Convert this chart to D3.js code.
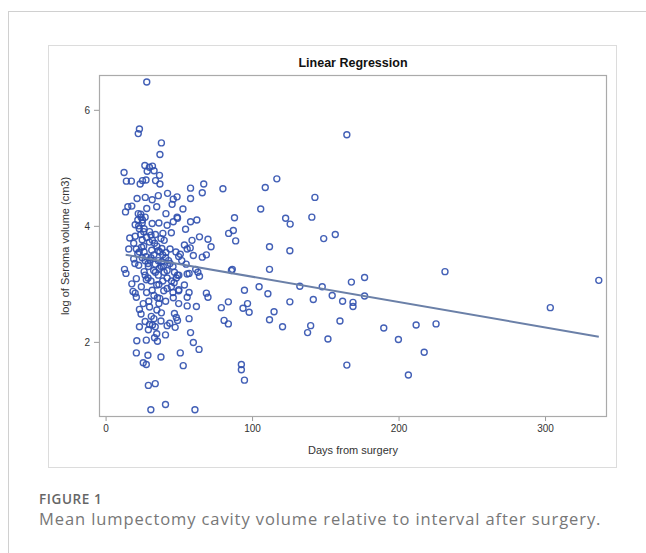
<!DOCTYPE html>
<html><head><meta charset="utf-8">
<script src="https://cdn.jsdelivr.net/npm/d3@7"></script>
<style>
html,body{margin:0;padding:0;background:#fff;}
svg{display:block;}
</style></head>
<body>
<svg id="c" width="646" height="553"></svg>
<script>
// ---- data ----
const chartTitle = "Linear Regression";
const xLabel = "Days from surgery";
const yLabel = "log of Seroma volume (cm3)";
const xTicks = [0, 100, 200, 300];
const yTicks = [2, 4, 6];
const figLabel = "FIGURE 1";
const caption = "Mean lumpectomy cavity volume relative to interval after surgery.";

// points (days, log volume)
const days = [
164.7,116.9,109,142.9,80.1,105.9,122.9,126,140.8,88,84,87.2,88.8,156.8,148.9,111.9,125.8,111.9,85.9,86.5,
231.7,176.8,167.8,336.7,132.6,147.9,104.8,94.8,110.8,154.7,176.8,141.8,161.8,168.9,168.9,83.8,96.9,79,93.8,303.6,
98,115,125.8,111.9,80.9,83.8,120.8,140,137.9,160,189.9,212,225.6,151.8,199.9,217.5,164.7,206.7,92.7,92.7,94.8,
67,58,66,58,62.3,58,54.6,64.1,69.9,72,53.8,59,55.7,57.8,68.8,66,59.9,51,49.9,55,61.5,63,55.7,64.1,57,53.8,49.9,57,68.8,69.9,55.7,55.7,49.9,62,57,58,59.9,63.8,51,53,61,40.9,30.9,33.9,29.2,37.8,28.9,25.7,27.8,21,21.3,27.8,33.4,34.9,35.4,40.9,23.1,29.2,32,33.9,42,47.5,37.8,43.8,48.3,49.1,47,31.2,24.2,38.1,23.1,25.7,29.5,36.4,21,35.4,46.2,20.2,18.7,24.4,31.8,39.7,42,44.9,17.9,27.8,34.9,36.4,46.8,48.3,49.1,21,12.9,13.9,19.2,22.6,26.3,29.2,32.8,36.8,39.4,42,30.2,33.9,38.4,27.6,15.8,19.2,22,24.6,26.3,31.5,36,38.4,41.2,33.4,37.8,29.9,25,16.5,20.2,31,39.1,44.9,42,36.4,31.8,25.2,22.6,20.2,26.3,22.3,24.2,15.2,17.9,13.6,28.1,34.9,45.4,41.2,48.8,52.8,46.2,49.1,21.5,27.1,31.8,36,42.3,46.2,48.8,14.2,17.6,12.6,23.6,25.2,27.6,34.1,37.1,36.8,33.1,29.9,26.8,32,28.4,37.1,38.1,22.3,23.1,28.1,
24,26,28,30,32,35,37,39,41,43,25,27,29,31,33,36,38,40,44,46,27,29,31,34,36,39,42,45,28,33,37,41,30,35,23,25,27,22,24,21,23,20,26,34,40,47,50,52,44,48,46,50,33,30,27
];
const logVolume = [
5.57,4.81,4.66,4.49,4.64,4.29,4.13,4.03,4.15,4.14,3.87,3.92,3.74,3.85,3.78,3.64,3.57,3.25,3.23,3.25,
3.21,3.11,3.03,3.06,2.96,2.95,2.95,2.89,2.83,2.80,2.79,2.73,2.70,2.68,2.61,2.69,2.66,2.59,2.58,2.59,
2.51,2.52,2.69,2.38,2.37,2.31,2.26,2.28,2.16,2.36,2.24,2.29,2.31,2.05,2.04,1.82,1.60,1.43,1.61,1.52,1.34,
4.72,4.65,4.57,4.47,4.10,4.07,3.94,3.81,3.77,3.64,3.67,3.75,3.60,3.62,3.50,3.46,3.49,3.51,3.47,3.34,3.25,3.20,3.17,3.13,3.18,2.98,2.88,2.85,2.84,2.77,2.77,2.62,2.66,2.61,2.40,2.16,1.99,1.87,1.81,1.59,0.83,0.92,0.83,1.28,1.25,1.74,1.77,1.64,1.61,1.81,2.02,2.03,2.07,2.14,2.01,2.12,2.26,2.21,2.29,2.26,2.28,2.25,2.36,2.32,2.42,2.37,2.49,2.44,2.48,2.50,2.56,2.66,2.70,2.66,2.77,2.76,2.76,2.84,2.87,2.95,2.89,2.88,2.92,2.95,3.00,3.07,2.98,2.99,3.02,3.10,3.15,3.09,3.25,3.18,3.43,3.32,3.21,3.30,3.23,3.27,3.30,3.23,3.41,3.34,3.38,3.47,3.60,3.70,3.52,3.63,3.55,3.58,3.57,3.61,3.54,3.70,3.78,3.72,3.76,3.79,3.82,3.84,3.87,3.88,4.01,4.05,4.04,4.10,4.00,4.02,3.95,4.21,4.15,4.33,4.34,4.24,4.30,4.33,4.37,4.21,4.15,4.29,4.07,4.13,4.47,4.49,4.45,4.52,4.56,4.46,4.50,4.77,4.77,4.92,4.72,4.78,4.79,4.78,4.72,4.87,4.95,5.01,5.04,5.03,4.94,5.23,5.43,5.59,5.67,6.48,
3.85,3.9,3.8,3.9,3.75,3.65,3.55,3.5,3.45,3.4,3.45,3.4,3.35,3.45,3.5,3.4,3.3,3.2,3.35,3.3,3.15,3.1,3.05,3.2,3.15,3.05,3.1,3.05,2.85,2.8,2.75,2.7,2.6,2.55,3.95,4.05,4.15,4.1,4.2,3.6,3.55,3.35,3.65,3.85,3.75,3.2,3.15,3.4,3.6,3.55,2.85,2.9,2.4,2.3,2.35
];
// fitted regression line endpoints
const fitDays = [13.7, 336.7];
const fitLog = [3.50, 2.09];

// ---- drawing ----
const svg = d3.select("#c");
const font = "'Liberation Sans', Arial, sans-serif";

// card borders
svg.append("line").attr("x1",8).attr("x2",646).attr("y1",11.5).attr("y2",11.5).attr("stroke","#d0d0d0");
svg.append("line").attr("x1",8.5).attr("x2",8.5).attr("y1",11).attr("y2",553).attr("stroke","#d0d0d0");
// image border
svg.append("rect").attr("x",48.5).attr("y",45.5).attr("width",568).attr("height",422)
  .attr("fill","none").attr("stroke","#dcdcdc");

const L=99, R=607, T=75, B=417;
const x = d3.scaleLinear().domain([-4.5, 342.3]).range([L, R]);
const y = d3.scaleLinear().domain([0.705, 6.6]).range([B, T]);

svg.append("text").attr("x",(L+R)/2).attr("y",67).attr("text-anchor","middle")
  .attr("font-family",font).attr("font-weight","bold").attr("font-size",12.5).attr("fill","#111").text(chartTitle);

// axes
const xa = svg.append("g").attr("transform",`translate(0,${B})`)
  .call(d3.axisBottom(x).tickValues(xTicks).tickFormat(d3.format("d")).tickSize(4).tickPadding(4));
const ya = svg.append("g").attr("transform",`translate(${L},0)`)
  .call(d3.axisLeft(y).tickValues(yTicks).tickFormat(d3.format("d")).tickSize(5).tickPadding(4));
[xa,ya].forEach(g=>{
  g.select(".domain").remove();
  g.selectAll(".tick line").attr("stroke","#999");
  g.selectAll(".tick text").attr("font-family",font).attr("font-size",10).attr("fill","#333");
});

// frame
svg.append("rect").attr("x",L+0.5).attr("y",T+0.5).attr("width",R-L-1).attr("height",B-T-1)
  .attr("fill","none").attr("stroke","#aaaaaa").attr("stroke-width",1.2);

// labels
svg.append("text").attr("x",(L+R)/2).attr("y",454).attr("text-anchor","middle")
  .attr("font-family",font).attr("font-size",11).attr("fill","#333").text(xLabel);
svg.append("text").attr("transform",`translate(69,${(T+B)/2}) rotate(-90)`).attr("text-anchor","middle")
  .attr("font-family",font).attr("font-size",11).attr("fill","#333").text(yLabel);

// points
const pts = days.map((d,i)=>({d, v: logVolume[i]}));
svg.append("g").selectAll("circle").data(pts).join("circle")
  .attr("cx",p=>x(p.d)).attr("cy",p=>y(p.v)).attr("r",3)
  .attr("fill","none").attr("stroke","#2f4fae").attr("stroke-width",1.4).attr("stroke-opacity",0.9);

// regression line
const fit = fitDays.map((d,i)=>[d, fitLog[i]]);
svg.append("path").attr("d", d3.line().x(p=>x(p[0])).y(p=>y(p[1]))(fit))
  .attr("fill","none").attr("stroke","#6b80a8").attr("stroke-width",2);

// caption
svg.append("text").attr("x",39).attr("y",503.5).attr("font-family","'Open Sans', sans-serif")
  .attr("font-size",13.5).attr("font-weight",600).attr("fill","#666").attr("letter-spacing",0.6).text(figLabel);
svg.append("text").attr("x",39).attr("y",524.5).attr("font-family","'Open Sans', sans-serif")
  .attr("font-size",16.5).attr("fill","#777").attr("letter-spacing",0.9).text(caption);
</script>
</body></html>
